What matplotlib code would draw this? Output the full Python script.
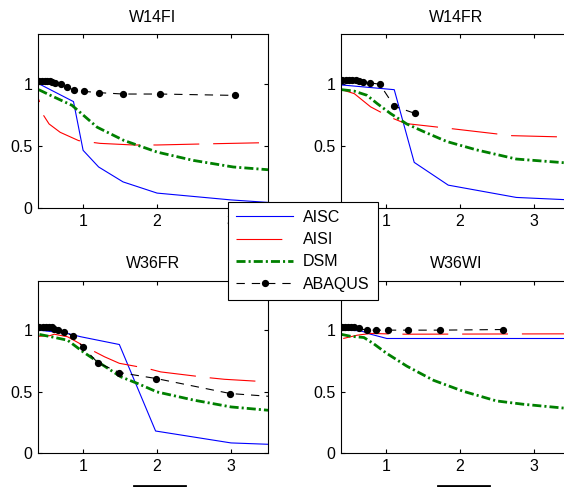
import matplotlib.pyplot as plt
from matplotlib.lines import Line2D

plt.rcParams['font.family'] = ['Liberation Sans', 'DejaVu Sans']
plt.rcParams['font.size'] = 11.5
plt.rcParams['lines.scale_dashes'] = False

titles = ["W14FI", "W14FR", "W36FR", "W36WI"]
labels = ["AISC", "AISI", "DSM", "ABAQUS"]

# W14FI
w14fi_aisc_x = [0.4, 0.87, 1.0, 1.21, 1.54, 2.0, 3.0, 3.5]
w14fi_aisc_y = [1.0, 0.856, 0.464, 0.33, 0.21, 0.12, 0.065, 0.045]
w14fi_aisi_x = [0.4, 0.46, 0.54, 0.69, 0.94, 1.23, 1.68, 2.0, 2.59, 3.5]
w14fi_aisi_y = [0.874, 0.75, 0.676, 0.609, 0.542, 0.52, 0.507, 0.507, 0.515, 0.526]
w14fi_dsm_x = [0.4, 0.56, 0.85, 1.19, 1.55, 2.0, 2.49, 3.03, 3.5]
w14fi_dsm_y = [0.952, 0.906, 0.826, 0.65, 0.544, 0.45, 0.383, 0.33, 0.308]
w14fi_abaqus_x = [0.4, 0.446, 0.482, 0.514, 0.55, 0.586, 0.626, 0.707, 0.784,
                  0.883, 1.018, 1.22, 1.54, 2.04, 3.05]
w14fi_abaqus_y = [1.019, 1.019, 1.019, 1.019, 1.019, 1.016, 1.008, 1.0, 0.973,
                  0.946, 0.938, 0.928, 0.917, 0.917, 0.906]

# W14FR
w14fr_aisc_x = [0.4, 1.11, 1.38, 1.84, 2.76, 3.5]
w14fr_aisc_y = [0.99, 0.952, 0.367, 0.184, 0.085, 0.065]
w14fr_aisi_x = [0.4, 0.57, 0.79, 1.06, 1.26, 1.89, 2.70, 3.5]
w14fr_aisi_y = [0.952, 0.92, 0.814, 0.729, 0.68, 0.638, 0.582, 0.57]
w14fr_dsm_x = [0.4, 0.565, 0.74, 0.88, 1.06, 1.28, 1.51, 1.82, 2.22, 2.76, 3.5]
w14fr_dsm_y = [0.952, 0.941, 0.907, 0.84, 0.76, 0.676, 0.614, 0.535, 0.468, 0.394, 0.36]
w14fr_abaqus_x = [0.408, 0.453, 0.498, 0.543, 0.587, 0.632, 0.686, 0.78, 0.915, 1.11, 1.39]
w14fr_abaqus_y = [1.027, 1.027, 1.027, 1.027, 1.027, 1.024, 1.016, 1.008, 0.995, 0.819, 0.761]

# W36FR
w36fr_aisc_x = [0.4, 0.79, 0.97, 1.49, 1.98, 3.0, 3.5]
w36fr_aisc_y = [1.0, 0.973, 0.946, 0.883, 0.179, 0.082, 0.071]
w36fr_aisi_x = [0.4, 0.55, 0.61, 0.79, 1.1, 1.29, 1.49, 1.87, 2.05, 2.68, 2.91, 3.5]
w36fr_aisi_y = [0.95, 0.955, 0.967, 0.946, 0.842, 0.783, 0.73, 0.688, 0.66, 0.614, 0.6, 0.579]
w36fr_dsm_x = [0.41, 0.57, 0.79, 1.0, 1.2, 1.51, 1.74, 2.0, 2.5, 3.0, 3.5]
w36fr_dsm_y = [0.965, 0.946, 0.918, 0.823, 0.742, 0.62, 0.565, 0.497, 0.43, 0.375, 0.348]
w36fr_abaqus_x = [0.41, 0.455, 0.5, 0.536, 0.577, 0.613, 0.667, 0.748, 0.86, 0.995,
                  1.2, 1.49, 1.99, 2.99, 3.5]
w36fr_abaqus_y = [1.027, 1.027, 1.027, 1.027, 1.022, 1.011, 1.0, 0.986, 0.954, 0.864,
                  0.734, 0.655, 0.606, 0.484, 0.462]

# W36WI
w36wi_aisc_x = [0.4, 0.655, 0.79, 1.01, 3.5]
w36wi_aisc_y = [1.0, 0.995, 0.967, 0.932, 0.932]
w36wi_aisi_x = [0.42, 0.61, 0.79, 1.0, 1.26, 3.5]
w36wi_aisi_y = [0.932, 0.959, 0.973, 0.97, 0.967, 0.97]
w36wi_dsm_x = [0.4, 0.52, 0.7, 0.83, 1.01, 1.28, 1.64, 2.04, 2.49, 2.85, 3.5]
w36wi_dsm_y = [0.965, 0.95, 0.94, 0.89, 0.81, 0.707, 0.592, 0.503, 0.424, 0.397, 0.36]
w36wi_abaqus_x = [0.408, 0.444, 0.484, 0.52, 0.565, 0.632, 0.735, 0.87, 1.027, 1.29, 1.73, 2.58]
w36wi_abaqus_y = [1.022, 1.022, 1.022, 1.022, 1.022, 1.014, 1.0, 1.0, 1.0, 1.0, 1.0, 1.005]

panels = [
    (w14fi_aisc_x, w14fi_aisc_y, w14fi_aisi_x, w14fi_aisi_y, w14fi_dsm_x, w14fi_dsm_y, w14fi_abaqus_x, w14fi_abaqus_y),
    (w14fr_aisc_x, w14fr_aisc_y, w14fr_aisi_x, w14fr_aisi_y, w14fr_dsm_x, w14fr_dsm_y, w14fr_abaqus_x, w14fr_abaqus_y),
    (w36fr_aisc_x, w36fr_aisc_y, w36fr_aisi_x, w36fr_aisi_y, w36fr_dsm_x, w36fr_dsm_y, w36fr_abaqus_x, w36fr_abaqus_y),
    (w36wi_aisc_x, w36wi_aisc_y, w36wi_aisi_x, w36wi_aisi_y, w36wi_dsm_x, w36wi_dsm_y, w36wi_abaqus_x, w36wi_abaqus_y),
]

W, H = 564, 487
fig = plt.figure(figsize=(W / 100, H / 100), dpi=100)

# axes boxes in pixels: left, top, width, height (right column runs past the edge)
boxes = [(38, 34, 230, 174), (341, 34, 230, 174), (38, 281, 230, 172), (341, 281, 230, 172)]
red_offsets = [31, 0, 0, 0]
mark_counts = [None, None, 14, None]

all_handles = []
for i, (box, title, data) in enumerate(zip(boxes, titles, panels)):
    l, t, w, h = box
    ax = fig.add_axes([l / W, (H - t - h) / H, w / W, h / H])
    ax_x, ax_y, ai_x, ai_y, d_x, d_y, ab_x, ab_y = data
    h1, = ax.plot(ax_x, ax_y, color='blue', lw=0.8)
    h2, = ax.plot(ai_x, ai_y, color='red', lw=0.8, linestyle=(red_offsets[i], (33, 10)))
    h3, = ax.plot(d_x, d_y, color='green', lw=2.0, dashes=(6.5, 2.2, 1.5, 2.2))
    me = slice(0, mark_counts[i]) if mark_counts[i] else None
    h4, = ax.plot(ab_x, ab_y, color='black', lw=0.8, dashes=(6, 5),
                  marker='o', markersize=4.2, markevery=me)
    all_handles.append([h1, h2, h3, h4])
    ax.set_xlim(0.39, 3.5)
    ax.set_ylim(0, 1.4)
    ax.set_xticks([1, 2, 3])
    ax.set_xticklabels(["1", "2", "3"])
    ax.set_yticks([0, 0.5, 1])
    ax.set_yticklabels(["0", "0.5", "1"])
    ax.tick_params(direction='in', length=3, width=0.8, top=True, right=True, pad=4)
    for s in ax.spines.values():
        s.set_linewidth(0.8)
    ax.set_title(title, pad=9, fontsize=11.5)

leg = fig.legend(all_handles[1], labels, loc='upper left',
                 bbox_to_anchor=(228 / W, 1 - 202 / H), borderaxespad=0,
                 fancybox=False, framealpha=1, edgecolor='black',
                 handlelength=3.6, handletextpad=0.6, labelspacing=0.45,
                 borderpad=0.5, numpoints=1, fontsize=11.5)
leg.get_frame().set_linewidth(0.8)

# clipped marks at the bottom edge
for x0, x1 in [(134, 185), (438, 489)]:
    fig.add_artist(Line2D([x0 / W, x1 / W], [1.5 / H, 1.5 / H], color='black', lw=2))

fig.savefig("out.png", dpi=100)
